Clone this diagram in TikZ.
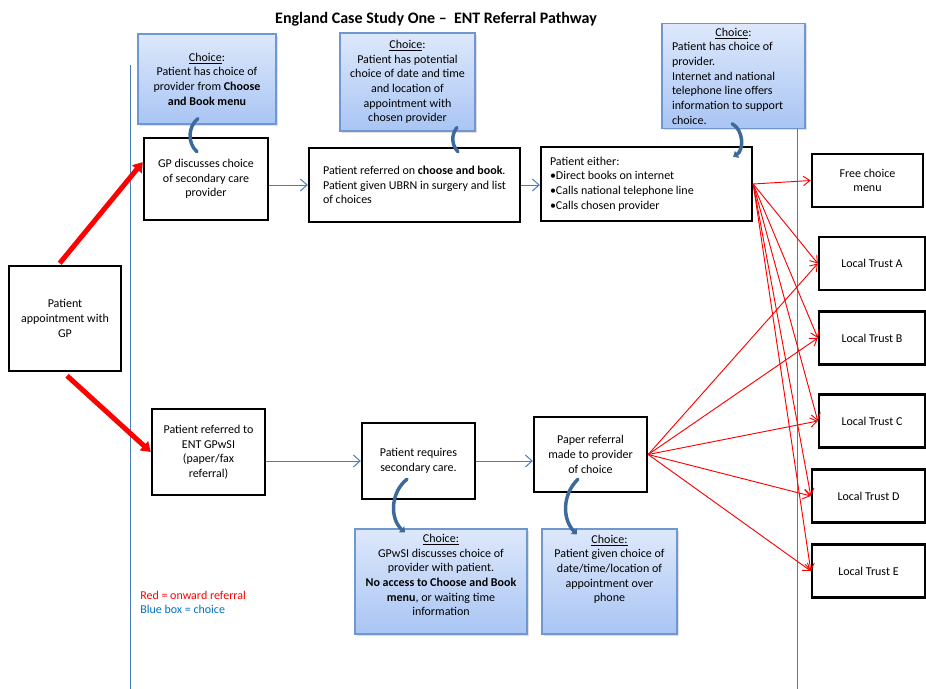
\documentclass[tikz,border=0pt]{standalone}
\usepackage{fontspec}
\setmainfont{Carlito}
\usetikzlibrary{arrows.meta,shadows}

\definecolor{choiceedge}{HTML}{6F98D0}
\definecolor{choicetop}{HTML}{DDE8FB}
\definecolor{choicebot}{HTML}{A9C5F4}
\definecolor{curveblue}{HTML}{3C6A9C}
\definecolor{laneblue}{HTML}{4A7EBB}
\definecolor{legendblue}{HTML}{0070C0}

\begin{document}
\begin{tikzpicture}[x=0.75pt,y=-0.75pt,
    every node/.style={font=\fontsize{9}{11}\selectfont},
    box/.style={draw,line width=1.8pt,align=center,inner sep=3pt},
    trust/.style={box,minimum width=79.5pt,minimum height=39.5pt},
    choice/.style={draw=choiceedge,line width=0.8pt,top color=choicetop,bottom color=choicebot,
        align=center,inner sep=3pt,drop shadow={opacity=0.25,shadow xshift=1.2pt,shadow yshift=-1.2pt}},
    lane/.style={draw=laneblue,line width=0.75pt},
    flow/.style={draw=laneblue,line width=0.75pt,-{Straight Barb[length=5pt,width=9pt]}},
    onward/.style={draw=red,line width=3.75pt,-{Triangle[length=7pt,width=9pt]}},
    referral/.style={draw=red,line width=0.7pt,-{Straight Barb[length=5pt,width=7pt]}},
    hook/.style={draw=curveblue,line width=2.6pt,line cap=round},
    hooktip/.style={hook,-{Triangle[length=3.5pt,width=6pt]}}]
    \useasboundingbox (0,0) rectangle (926,689);

    % swim lane lines
    \draw[lane] (130,65) -- (130,689);
    \draw[lane] (797,30) -- (797,689);

    \node[font=\fontsize{12}{14}\selectfont\bfseries] (title) at (436,19) {England Case Study One –\ \ ENT Referral Pathway};

    % choice boxes
    \node[choice,minimum width=103.5pt,minimum height=67.5pt] (ch1) at (207,79)
        {\underline{Choice}:\\Patient has choice of\\provider from \textbf{Choose}\\\textbf{and Book menu}};
    \node[choice,minimum width=101.25pt,minimum height=73.5pt] (ch2) at (407.5,82)
        {\underline{Choice}:\\Patient has potential\\choice of date and time\\and location of\\appointment with\\chosen provider};
    \node[choice,align=flush left,inner xsep=7.5pt,text width=92.25pt,minimum height=73.5pt] (ch3) at (733.5,76)
        {\makebox[\linewidth]{\underline{Choice}:}\\Patient has choice of\\provider.\\Internet and national\\telephone line offers\\information to support\\choice.};
    \node[choice,minimum width=129pt,minimum height=78.75pt,text depth=10pt] (ch4) at (441,581.5)
        {\underline{Choice:}\\GPwSI discusses choice of\\provider with patient.\\\textbf{No access to Choose and Book}\\\textbf{menu}, or waiting time\\information};
    \node[choice,minimum width=101.25pt,minimum height=78.75pt,text depth=20pt] (ch5) at (609.5,581.5)
        {\underline{Choice:}\\Patient given choice of\\date/time/location of\\appointment over\\phone};

    % pathway boxes
    \node[box,minimum width=84pt,minimum height=78.75pt] (appt) at (65,318.5) {Patient\\appointment with\\GP};
    \node[box,minimum width=93pt,minimum height=61.5pt] (gp) at (206,179) {GP discusses choice\\of secondary care\\provider};
    \node[box,align=flush left,minimum width=158.25pt,minimum height=55.5pt] (cab) at (414.5,185)
        {Patient referred on \textbf{choose and book}.\\Patient given UBRN in surgery and list\\of choices};
    \node[box,align=flush left,inner xsep=6.75pt,text width=144.75pt,minimum height=55.5pt] (either) at (646.5,184)
        {Patient either:\\•Direct books on internet\\•Calls national telephone line\\•Calls chosen provider};
    \node[box,minimum width=84.75pt,minimum height=64.5pt] (ent) at (208.5,452) {Patient referred to\\ENT GPwSI\\(paper/fax\\referral)};
    \node[box,minimum width=84.75pt,minimum height=57pt] (req) at (418.5,461) {Patient requires\\secondary care.};
    \node[box,minimum width=84.75pt,minimum height=56.25pt] (paper) at (590.5,454.5) {Paper referral\\made to provider\\of choice};

    % providers
    \node[box,minimum width=83.25pt,minimum height=39.75pt] (free) at (867.5,180.5) {Free choice\\menu};
    \node[trust] (ta) at (872,263.5) {Local Trust A};
    \node[trust] (tb) at (872,338) {Local Trust B};
    \node[trust] (tc) at (872,421) {Local Trust C};
    \node[trust,minimum width=84.75pt] (td) at (868.5,496) {Local Trust D};
    \node[trust,minimum width=84.75pt] (te) at (868.5,571) {Local Trust E};

    \node[anchor=west,inner sep=0pt,text=red] (lgred) at (140,595) {Red = onward referral};
    \node[anchor=west,inner sep=0pt,text=legendblue] (lgblue) at (140,609) {Blue box = choice};

    % onward referrals from GP
    \draw[onward,shorten <=1.5pt] (appt.97) -- (gp.165);
    \draw[onward,shorten <=4pt] (appt.268) -- (ent.west);

    % flow between steps
    \draw[flow] (gp.east |- cab.west) -- (cab.west);
    \draw[flow] (cab.east) -- (either.west |- cab.east);
    \draw[flow] (ent.east |- req.west) -- (req.west);
    \draw[flow] (req.east) -- (req.east -| paper.west);

    % referrals to providers
    \draw[referral] (either.east) -- (free.west);
    \foreach \t in {ta,tb,tc,td,te} {
        \draw[referral] (either.east) -- (\t.west);
        \draw[referral] (paper.east) -- (\t.west);
    }

    % choice hooks
    \draw[hook] ([xshift=-6.75pt,yshift=4.5pt]ch1.south) to[bend right=50] ([xshift=-6.75pt,yshift=-11.25pt]gp.north);
    \draw[hook] ([xshift=37pt,yshift=3pt]ch2.south) to[bend right=40] ([xshift=32.6pt,yshift=-3.75pt]cab.north);
    \draw[hooktip] ([xshift=-1pt,yshift=3.75pt]ch3.south) to[bend left=60] ([xshift=65pt,yshift=-8.25pt]either.north);
    \draw[hooktip] ([xshift=-8.6pt,yshift=15.75pt]req.south) to[bend right=50] ([xshift=-27pt,yshift=-3pt]ch4.north);
    \draw[hooktip] ([xshift=-9.4pt,yshift=10.5pt]paper.south) to[bend right=45] ([xshift=-24.4pt,yshift=-4.5pt]ch5.north);
\end{tikzpicture}
\end{document}
